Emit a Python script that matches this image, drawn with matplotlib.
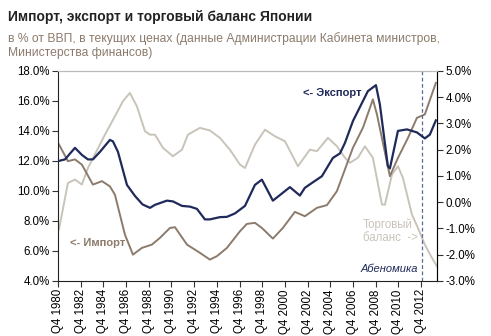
import matplotlib
matplotlib.use('Agg')
import matplotlib.pyplot as plt
from matplotlib.ticker import FuncFormatter

plt.rcParams['font.family'] = ['Liberation Sans', 'DejaVu Sans']

# экспорт, % ВВП (левая ось)
export_t = [1980.84, 1981.37, 1982.25, 1982.86, 1983.39, 1983.83, 1984.45, 1985.33, 1985.6, 1986.04,
            1986.83, 1987.53, 1988.2, 1988.86, 1989.3, 1990.35, 1990.88, 1991.68, 1992.4, 1993.0,
            1993.7, 1994.14, 1995.02, 1995.64, 1996.35, 1996.79, 1997.23, 1997.67, 1998.11, 1998.72,
            1999.69, 2001.19, 2002.07, 2002.5, 2003.13, 2004.01, 2004.98, 2005.6, 2006.04, 2006.74,
            2008.06, 2008.77, 2009.12, 2009.82, 2010.0, 2010.71, 2011.5, 2012.38, 2013.08, 2013.52, 2014.05]
export_v = [12.0, 12.1, 12.87, 12.4, 12.1, 12.1, 12.6, 13.4, 13.3, 12.6,
            10.4, 9.67, 9.1, 8.87, 9.07, 9.35, 9.3, 9.0, 8.95, 8.8,
            8.1, 8.1, 8.25, 8.27, 8.5, 8.75, 9.0, 9.7, 10.4, 10.75,
            9.35, 10.25, 9.69, 10.2, 10.53, 10.98, 12.2, 12.5, 13.2, 14.65,
            16.65, 17.05, 15.75, 11.65, 11.5, 14.0, 14.1, 13.9, 13.5, 13.75, 14.7]

# импорт, % ВВП (левая ось)
import_t = [1980.84, 1981.63, 1982.25, 1982.86, 1983.83, 1984.63, 1985.33, 1985.77, 1986.65, 1987.36,
            1988.15, 1989.03, 1989.74, 1990.62, 1991.06, 1992.12, 1993.26, 1994.14, 1994.76, 1995.64,
            1996.79, 1997.4, 1998.11, 1998.72, 1999.69, 2000.57, 2001.63, 2002.51, 2003.57, 2004.45,
            2005.33, 2005.78, 2006.74, 2007.62, 2008.24, 2008.5, 2008.86, 2010.0, 2010.71, 2011.59,
            2012.38, 2013.08, 2014.05]
import_v = [13.1, 11.98, 12.1, 11.75, 10.42, 10.65, 10.3, 9.75, 7.09, 5.75,
            6.2, 6.42, 6.87, 7.53, 7.58, 6.42, 5.87, 5.42, 5.65, 6.2,
            7.31, 7.8, 7.87, 7.53, 6.82, 7.53, 8.6, 8.31, 8.87, 9.05,
            9.98, 10.9, 12.87, 14.2, 15.53, 16.1, 15.1, 10.98, 12.2, 13.53,
            14.87, 15.1, 17.2]

# торговый баланс, % ВВП (правая ось)
balance_t = [1980.84, 1981.63, 1982.25, 1982.86, 1983.39, 1984.89, 1985.77, 1986.48, 1987.09, 1987.71,
             1988.42, 1988.86, 1989.3, 1990.0, 1990.88, 1991.68, 1992.2, 1993.26, 1994.14, 1995.02,
             1995.9, 1996.79, 1997.23, 1998.11, 1998.99, 1999.87, 2000.75, 2001.9, 2002.95, 2003.57,
             2004.54, 2005.33, 2006.04, 2006.48, 2007.18, 2007.8, 2008.5, 2009.3, 2009.56, 2010.18,
             2010.71, 2011.15, 2011.94, 2012.47, 2013.08, 2013.7, 2014.14]
balance_v = [-1.04, 0.73, 0.86, 0.67, 1.3, 2.57, 3.27, 3.85, 4.16, 3.65,
             2.7, 2.57, 2.57, 2.07, 1.75, 2.0, 2.57, 2.83, 2.73, 2.45,
             2.0, 1.43, 1.3, 2.19, 2.76, 2.51, 2.32, 1.37, 2.0, 1.94,
             2.45, 2.13, 1.69, 1.5, 1.69, 2.13, 1.69, -0.09, -0.1, 1.05,
             1.37, 0.92, -0.47, -0.98, -1.62, -2.12, -2.44]

tick_years = list(range(1980, 2013, 2))
abenomics = 2012.8

navy = '#1f2a5a'
brown = '#8c7b6c'
light = '#c9c4ba'

fig = plt.figure(figsize=(4.91, 3.36), dpi=100)
ax = fig.add_axes([0.118, 0.164, 0.772, 0.625])
ax2 = ax.twinx()

ax.plot(export_t, export_v, color=navy, lw=1.6, zorder=3)
ax.plot(import_t, import_v, color=brown, lw=1.4, zorder=2)
ax2.plot(balance_t, balance_v, color=light, lw=1.4, zorder=1)
ax.set_zorder(ax2.get_zorder() + 1)
ax.patch.set_visible(False)

ax.axvline(abenomics, color='#5a6a9a', lw=0.9, ls=(0, (3, 2)))

ax.set_xlim(1980.75, 2014.15)
ax.set_ylim(4, 18)
ax2.set_ylim(-3, 5)
ax.set_yticks(range(4, 19, 2))
ax2.set_yticks(range(-3, 6))
ax.yaxis.set_major_formatter(FuncFormatter(lambda v, p: f'{v:.1f}%'))
ax2.yaxis.set_major_formatter(FuncFormatter(lambda v, p: f'{v:.1f}%'))
ax.set_xticks([y + 0.75 for y in tick_years])
ax.set_xticklabels([f'Q4 {y}' for y in tick_years], rotation=90)

for a in (ax, ax2):
    a.tick_params(labelsize=8.3, length=4, width=0.8, color='#333333', pad=2)
    a.spines['top'].set_color('#bbbbbb')
ax.spines['left'].set_color('#222222')
ax.spines['bottom'].set_color('#222222')
ax2.spines['right'].set_color('#666666')
ax2.spines['left'].set_visible(False)
ax2.spines['bottom'].set_visible(False)

ax.text(2002.3, 16.55, '<- Экспорт', color=navy, fontsize=8, fontweight='bold', va='center')
ax.text(1981.8, 6.55, '<- Импорт', color=brown, fontsize=8, fontweight='bold', va='center')
ax.text(2007.6, 7.3, 'Торговый\nбаланс  ->', color=light, fontsize=8.3, va='center', linespacing=1.1)
ax.text(abenomics - 0.3, 4.8, 'Абеномика', color=navy, fontsize=8, style='italic',
        ha='right', va='center')

fig.text(0.016, 0.948, 'Импорт, экспорт и торговый баланс Японии', fontsize=10,
         fontweight='bold', color='#222222', va='center')
fig.text(0.016, 0.865, 'в % от ВВП, в текущих ценах (данные Администрации Кабинета министров,\n'
         'Министерства финансов)', fontsize=8.7, color='#8c7b6c', va='center', linespacing=1.25)

fig.savefig('out.png', dpi=100)
